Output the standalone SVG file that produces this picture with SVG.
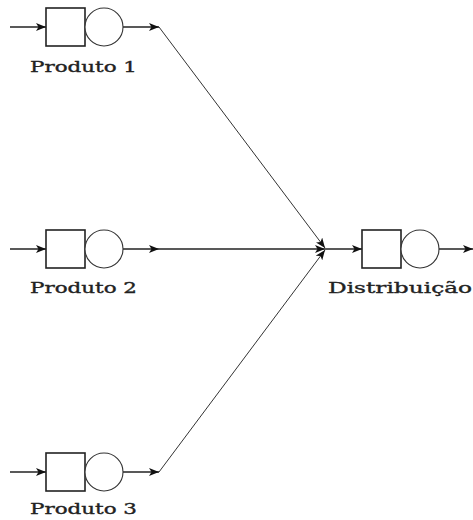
<svg xmlns="http://www.w3.org/2000/svg" width="473" height="520" viewBox="0 0 473 520">
<style>
.q{fill:#fff;stroke:#222;stroke-width:1.6}
.s{fill:#fff;stroke:#333;stroke-width:1.1}
.l{stroke:#222;stroke-width:1.5;fill:none}
.d{stroke:#333;stroke-width:1;fill:none}
.t{font-family:"DejaVu Serif","Liberation Serif",serif;font-size:15px;fill:#222;stroke:#222;stroke-width:0.35}
</style>
<defs>
<marker id="a" viewBox="0 0 10 8" refX="10" refY="4" markerWidth="10" markerHeight="8" markerUnits="userSpaceOnUse" orient="auto">
<path d="M0,0 L10,4 L0,8 L2.5,4 Z" fill="#111"/>
</marker>
</defs>
<rect width="473" height="520" fill="#fff"/>
<g id="connectors">
<line class="l" x1="10" y1="27" x2="46" y2="27" marker-end="url(#a)"/>
<line class="l" x1="123" y1="27" x2="159" y2="27" marker-end="url(#a)"/>
<line class="l" x1="10" y1="249" x2="46" y2="249" marker-end="url(#a)"/>
<line class="l" x1="123" y1="249" x2="159" y2="249" marker-end="url(#a)"/>
<line class="l" x1="10" y1="472" x2="46" y2="472" marker-end="url(#a)"/>
<line class="l" x1="123" y1="472" x2="159" y2="472" marker-end="url(#a)"/>
<line class="d" x1="159" y1="27" x2="325" y2="248" marker-end="url(#a)"/>
<line class="l" x1="159" y1="249" x2="325" y2="249" marker-end="url(#a)"/>
<line class="d" x1="159" y1="472" x2="325" y2="250" marker-end="url(#a)"/>
<line class="l" x1="325" y1="249" x2="362" y2="249" marker-end="url(#a)"/>
<line class="l" x1="438" y1="249" x2="473" y2="249" marker-end="url(#a)"/>
</g>
<g id="produto1">
<rect class="q" x="46" y="8" width="39" height="38"/>
<circle class="s" cx="104" cy="27" r="19"/>
<text class="t" x="30" y="72" textLength="107" lengthAdjust="spacingAndGlyphs">Produto 1</text>
</g>
<g id="produto2">
<rect class="q" x="46" y="230" width="39" height="38"/>
<circle class="s" cx="104" cy="249" r="19"/>
<text class="t" x="30" y="293" textLength="107" lengthAdjust="spacingAndGlyphs">Produto 2</text>
</g>
<g id="produto3">
<rect class="q" x="46" y="453" width="39" height="38"/>
<circle class="s" cx="104" cy="472" r="19"/>
<text class="t" x="30" y="514" textLength="107" lengthAdjust="spacingAndGlyphs">Produto 3</text>
</g>
<g id="distribuicao">
<rect class="q" x="362" y="230" width="39" height="38"/>
<circle class="s" cx="420" cy="249" r="19"/>
<text class="t" x="328" y="293" textLength="144" lengthAdjust="spacingAndGlyphs">Distribuição</text>
</g>
</svg>
